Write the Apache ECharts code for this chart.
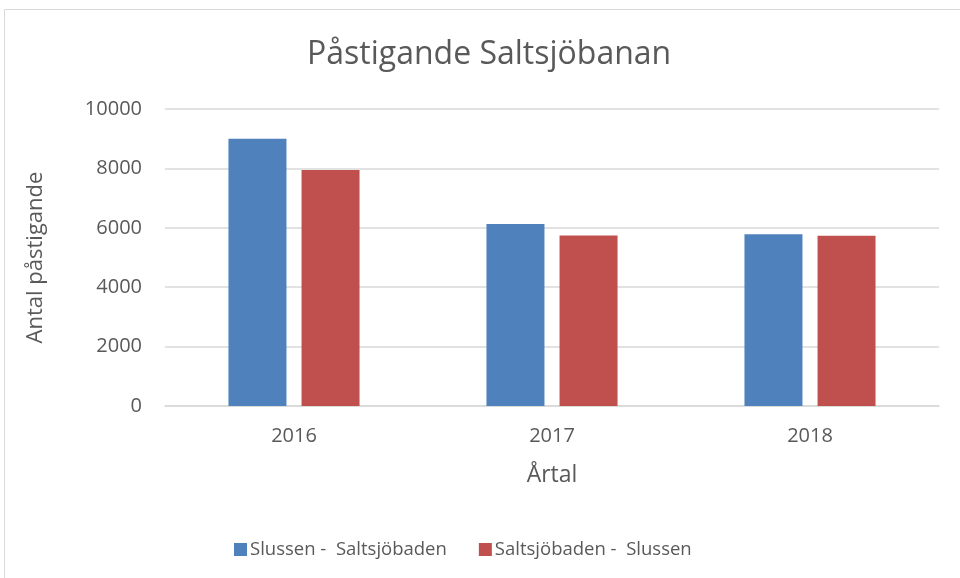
<!DOCTYPE html>
<html>
<head>
<meta charset="utf-8">
<script src="https://cdn.jsdelivr.net/npm/echarts@6/dist/echarts.min.js"></script>
<style>html,body{margin:0;padding:0;background:#fff}#c{width:960px;height:578px}</style>
</head>
<body>
<div id="c"></div>
<script>
const categories = ['2016', '2017', '2018'];
const seriesNames = ['Slussen -  Saltsjöbaden', 'Saltsjöbaden -  Slussen'];
const slussenSaltsjobaden = [9000, 6130, 5780];
const saltsjobadenSlussen = [7950, 5740, 5730];
const yTicks = [0, 2000, 4000, 6000, 8000, 10000];

const font = 'Open Sans';
const txt = '#595959';
const chart = echarts.init(document.getElementById('c'), null, {renderer: 'canvas'});
chart.setOption({
  animation: false,
  backgroundColor: '#fff',
  textStyle: {fontFamily: font},
  graphic: [{
    type: 'rect', shape: {x: 4.5, y: 9.5, width: 1200, height: 1200},
    style: {fill: 'none', stroke: '#d9d9d9', lineWidth: 1}, silent: true, z: -10
  }],
  title: {
    text: 'Påstigande Saltsjöbanan', left: 302, top: 34,
    textStyle: {fontFamily: font, fontSize: 32, fontWeight: 'normal', color: txt}
  },
  legend: {
    left: 229, top: 535, itemWidth: 13, itemHeight: 13, itemGap: 32,
    icon: 'rect',
    textStyle: {fontFamily: font, fontSize: 18.5, color: txt, padding: [0, 0, 0, -2]},
    data: seriesNames
  },
  grid: {left: 165, right: 21, top: 109, bottom: 172, containLabel: false},
  xAxis: {
    type: 'category', data: categories,
    name: 'Årtal', nameLocation: 'middle', nameGap: 58,
    nameTextStyle: {fontFamily: font, fontSize: 23, color: txt},
    axisLine: {lineStyle: {color: '#d9d9d9', width: 1.5}},
    axisTick: {show: false},
    axisLabel: {fontFamily: font, fontSize: 20, color: txt, margin: 20}
  },
  yAxis: {
    type: 'value', min: yTicks[0], max: yTicks[yTicks.length - 1], interval: 2000,
    name: 'Antal påstigande', nameLocation: 'middle', nameGap: 118, nameRotate: 90,
    nameTextStyle: {fontFamily: font, fontSize: 22, color: txt},
    axisLine: {show: false}, axisTick: {show: false},
    axisLabel: {fontFamily: font, fontSize: 20, color: txt, margin: 23, formatter: v => String(v)},
    splitLine: {lineStyle: {color: '#d9d9d9', width: 1.5}}
  },
  series: [
    {name: seriesNames[0], type: 'bar', data: slussenSaltsjobaden, barWidth: 58, barGap: '26%',
     itemStyle: {color: '#4f81bd'}},
    {name: seriesNames[1], type: 'bar', data: saltsjobadenSlussen, barWidth: 58, barGap: '26%',
     itemStyle: {color: '#c0504d'}}
  ]
});
</script>
</body>
</html>
